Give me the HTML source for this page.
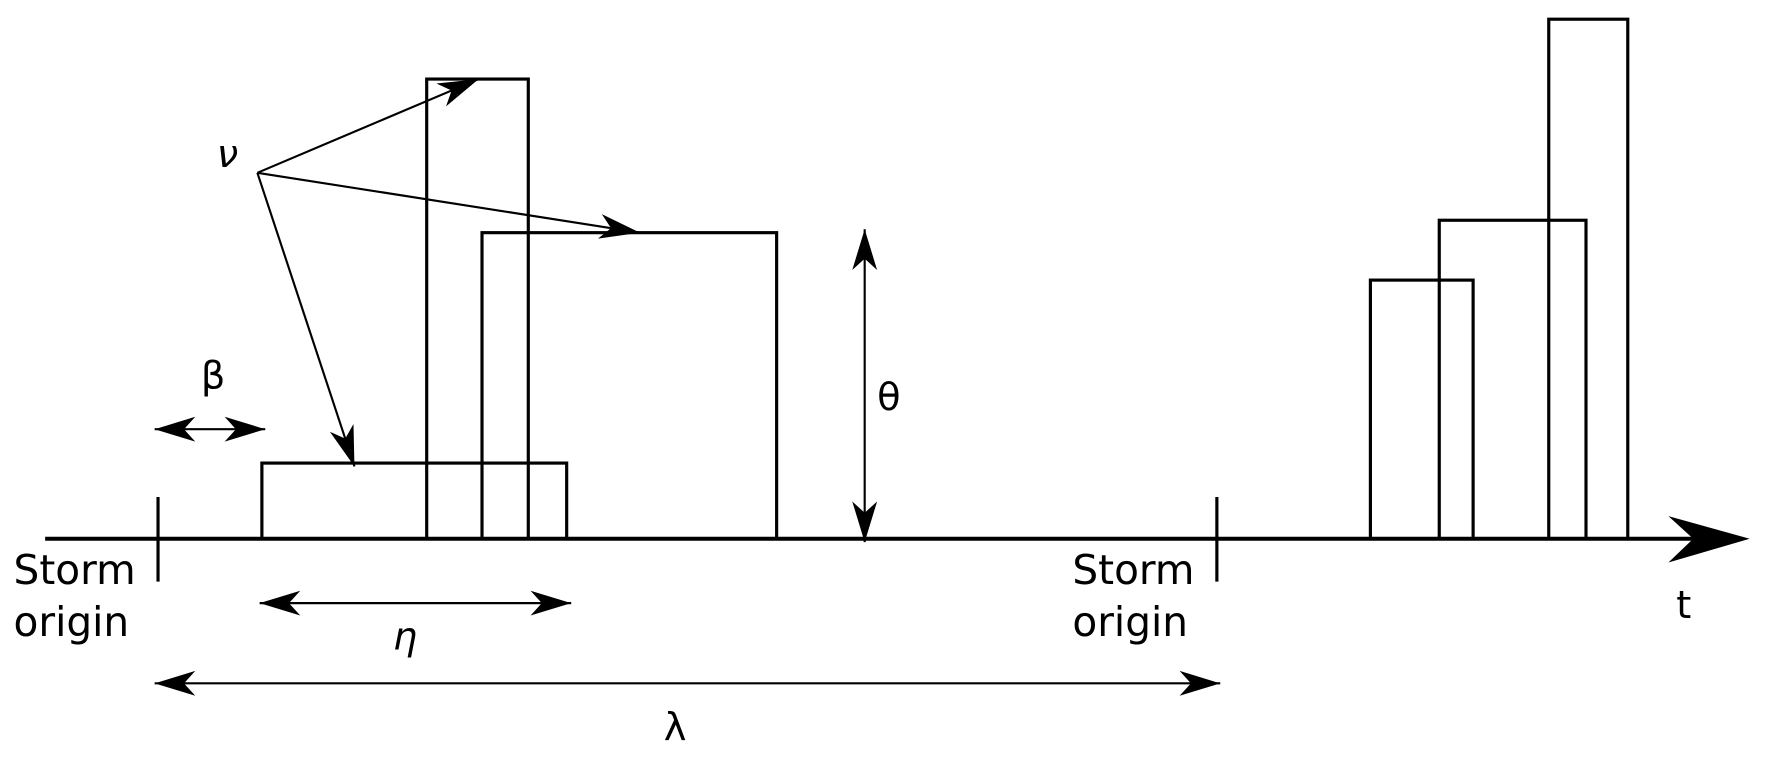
<!DOCTYPE html>
<html><head><meta charset="utf-8"><style>
html,body{margin:0;padding:0;background:#fff;}
svg{display:block;}
text{font-family:"DejaVu Sans","Liberation Sans",sans-serif;fill:#000;}
</style></head><body>
<svg width="1770" height="759" viewBox="0 0 1568 672" preserveAspectRatio="none" xmlns="http://www.w3.org/2000/svg">
<defs>
<marker id="a" markerUnits="userSpaceOnUse" markerWidth="40" markerHeight="30" refX="36" refY="12" orient="auto-start-reverse" viewBox="0 0 40 24">
<path d="M36,12 L0,1 L10,12 L0,23 Z" fill="#000"/>
</marker>
</defs>
<g fill="none" stroke="#000" stroke-width="2.8">
<rect x="232" y="410" width="270" height="67"/>
<rect x="378" y="70" width="90" height="407"/>
<rect x="427" y="206" width="261" height="271"/>
<rect x="1214" y="248" width="91" height="229"/>
<rect x="1275" y="195" width="130" height="282"/>
<rect x="1372" y="17" width="70" height="460"/>
</g>
<line x1="40" y1="477" x2="1500" y2="477" stroke="#000" stroke-width="3.6"/>
<path d="M1550,477 L1478,457 L1500,477 L1478,498 Z" fill="#000"/>
<line x1="140" y1="440" x2="140" y2="515" stroke="#000" stroke-width="2.8"/>
<line x1="1078" y1="440" x2="1078" y2="515" stroke="#000" stroke-width="2.8"/>
<g stroke="#000" stroke-width="1.9" fill="none">
<line x1="228" y1="153" x2="424" y2="70" marker-end="url(#a)"/>
<line x1="228" y1="153" x2="567" y2="206" marker-end="url(#a)"/>
<line x1="228" y1="153" x2="314" y2="413" marker-end="url(#a)"/>
<line x1="137" y1="380" x2="235" y2="380" marker-start="url(#a)" marker-end="url(#a)"/>
<line x1="766" y1="203" x2="766" y2="480" marker-start="url(#a)" marker-end="url(#a)"/>
<line x1="230" y1="534" x2="506" y2="534" marker-start="url(#a)" marker-end="url(#a)"/>
<line x1="137" y1="605" x2="1081" y2="605" marker-start="url(#a)" marker-end="url(#a)"/>
</g>
<g font-size="34">
<text x="12" y="517" font-size="36">Storm</text>
<text x="12" y="563" font-size="36">origin</text>
<text x="950" y="517" font-size="36">Storm</text>
<text x="950" y="563" font-size="36">origin</text>
<text x="1485" y="547">t</text>
<text x="192" y="148" font-style="italic">ν</text>
<text x="178" y="344">β</text>
<text x="777" y="363">θ</text>
<text x="348" y="575" font-style="italic">η</text>
<text x="588" y="655">λ</text>
</g>
</svg>
</body></html>
